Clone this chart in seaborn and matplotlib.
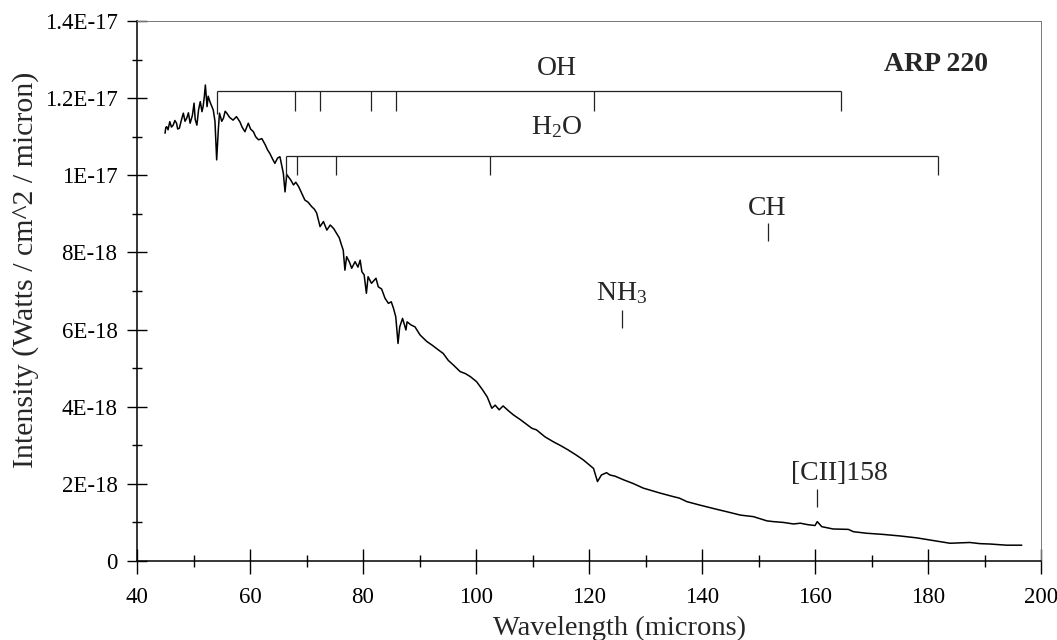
import numpy as np
import pandas as pd
import seaborn as sns
from matplotlib import pyplot as plt
from matplotlib.ticker import MultipleLocator, FixedLocator, FixedFormatter

# spectrum, intensity in units of 1e-18 W/cm^2/micron
wavelength = [
    44.96, 45.1, 45.26, 45.5, 45.8, 46.1, 46.4, 46.7, 47.0, 47.2,
    47.5, 47.8, 48.2, 48.5, 48.8, 49.1, 49.4, 49.8, 50.1, 50.3,
    50.6, 50.9, 51.2, 51.5, 51.7, 51.9, 52.1, 52.4, 52.6, 52.9,
    53.2, 53.5, 53.8, 54.1, 54.4, 54.6, 55.0, 55.3, 55.6, 55.9,
    56.4, 57.0, 57.6, 58.2, 58.6, 59.1, 59.7, 60.1, 60.6, 61.0,
    61.5, 62.1, 62.7, 63.1, 63.5, 64.0, 64.4, 64.9, 65.3, 65.9,
    66.2, 66.5, 66.8, 67.2, 67.7, 68.1, 68.6, 69.1, 69.7, 70.3,
    70.9, 71.4, 71.8, 72.4, 73.0, 73.6, 74.2, 74.8, 75.3, 75.8,
    76.2, 76.5, 76.8, 77.1, 77.6, 78.0, 78.6, 79.1, 79.5, 79.8,
    80.2, 80.6, 80.9, 81.5, 82.3, 82.7, 83.3, 83.9, 84.5, 85.0,
    85.4, 85.8, 86.2, 86.5, 87.0, 87.6, 87.8, 88.5, 89.2, 90.1,
    91.3, 92.2, 93.0, 94.2, 95.1, 96.0, 97.2, 98.1, 99.0, 100.1,
    101.2, 102.0, 102.8, 103.4, 104.1, 104.8, 105.7, 106.6, 107.8, 109.9,
    110.7, 112.2, 113.7, 115.0, 116.3, 117.7, 119.0, 120.8, 121.5, 122.2,
    123.1, 123.7, 124.6, 126.2, 127.8, 129.6, 131.0, 132.6, 134.9, 136.0,
    137.3, 139.6, 142.6, 144.6, 146.8, 149.1, 151.5, 152.7, 154.4, 156.2,
    157.4, 158.8, 160.0, 160.4, 161.2, 163.2, 165.9, 166.8, 169.1, 172.0,
    175.0, 178.0, 181.0, 183.9, 185.6, 187.4, 189.2, 191.0, 193.9, 196.6,
]
intensity = [
    11.09, 11.24, 11.26, 11.18, 11.39, 11.25, 11.30, 11.42, 11.35, 11.20,
    11.22, 11.40, 11.61, 11.40, 11.48, 11.62, 11.35, 11.55, 11.87, 11.45,
    11.30, 11.70, 11.91, 11.65, 11.78, 12.02, 12.34, 11.78, 12.05, 11.91,
    11.80, 11.69, 11.40, 10.40, 11.20, 11.61, 11.40, 11.48, 11.66, 11.61,
    11.50, 11.43, 11.52, 11.39, 11.25, 11.13, 11.35, 11.20, 11.13, 11.00,
    10.92, 10.95, 10.79, 10.66, 10.57, 10.42, 10.31, 10.45, 10.48, 10.05,
    9.57, 10.02, 9.96, 9.88, 9.75, 9.82, 9.71, 9.55, 9.36, 9.30,
    9.19, 9.12, 9.02, 8.67, 8.80, 8.58, 8.71, 8.62, 8.50, 8.38,
    8.19, 8.06, 7.54, 7.89, 7.75, 7.59, 7.76, 7.62, 7.80, 7.50,
    7.42, 6.94, 7.37, 7.20, 7.33, 7.11, 7.05, 6.81, 6.68, 6.72,
    6.55, 6.33, 5.64, 6.07, 6.29, 5.99, 6.20, 6.12, 6.07, 5.86,
    5.69, 5.60, 5.51, 5.38, 5.20, 5.08, 4.91, 4.86, 4.78, 4.65,
    4.43, 4.25, 3.96, 4.04, 3.92, 4.02, 3.90, 3.79, 3.67, 3.44,
    3.40, 3.22, 3.09, 2.99, 2.88, 2.75, 2.62, 2.40, 2.06, 2.23,
    2.29, 2.23, 2.20, 2.10, 2.01, 1.89, 1.83, 1.76, 1.67, 1.63,
    1.54, 1.45, 1.34, 1.27, 1.19, 1.15, 1.04, 1.02, 1.00, 0.96,
    0.98, 0.94, 0.92, 1.02, 0.89, 0.83, 0.82, 0.76, 0.72, 0.69,
    0.65, 0.60, 0.53, 0.46, 0.47, 0.48, 0.45, 0.44, 0.41, 0.41,
]

# line identifications (microns, as placed in the figure)
oh_span = [54.1, 164.6]
oh_ticks = [68.0, 72.4, 81.5, 85.9, 120.9]
oh_level = 12.19
h2o_span = [66.4, 181.8]
h2o_ticks = [68.4, 75.3, 102.5]
h2o_level = 10.5

single_lines = ["CH", "NH$_3$", "[CII]158"]
single_x = [151.6, 125.8, 160.4]
single_tick = [(8.3, 8.75), (6.05, 6.5), (1.39, 1.86)]
single_label_y = [9.15, 6.95, 2.26]
single_label_x = [151.6, 125.8, 164.4]

y_ticks = [0, 2, 4, 6, 8, 10, 12, 14]
y_tick_labels = ["0", "2E-18", "4E-18", "6E-18", "8E-18", "1E-17", "1.2E-17", "1.4E-17"]

sns.set_style("ticks")
plt.rcParams['font.family'] = ['Liberation Serif', 'DejaVu Serif']
plt.rcParams['mathtext.fontset'] = 'custom'
plt.rcParams['mathtext.rm'] = 'Liberation Serif'
plt.rcParams['mathtext.it'] = 'Liberation Serif:italic'

df = pd.DataFrame({'wavelength': wavelength,
                   'intensity': np.array(intensity) * 1e-18})

fig, ax = plt.subplots(figsize=(10.57, 6.4), dpi=100)
fig.subplots_adjust(left=137 / 1057, right=1041 / 1057, bottom=1 - 561 / 640, top=1 - 21 / 640)

sns.lineplot(data=df, x='wavelength', y='intensity', ax=ax, color='black',
             linewidth=1.1, estimator=None, sort=False)

lw = 0.9
ink = '#222222'
ax.hlines(oh_level * 1e-18, oh_span[0], oh_span[1], color=ink, lw=lw)
ax.vlines(oh_span[0], 11.6e-18, oh_level * 1e-18, color=ink, lw=lw)
ax.vlines(oh_span[1], (oh_level - 0.52) * 1e-18, oh_level * 1e-18, color=ink, lw=lw)
ax.vlines(oh_ticks, (oh_level - 0.52) * 1e-18, oh_level * 1e-18, color=ink, lw=lw)
ax.hlines(h2o_level * 1e-18, h2o_span[0], h2o_span[1], color=ink, lw=lw)
ax.vlines(h2o_span[0], 9.95e-18, h2o_level * 1e-18, color=ink, lw=lw)
ax.vlines(h2o_span[1], (h2o_level - 0.5) * 1e-18, h2o_level * 1e-18, color=ink, lw=lw)
ax.vlines(h2o_ticks, (h2o_level - 0.5) * 1e-18, h2o_level * 1e-18, color=ink, lw=lw)

ax.text(114.3, 12.78e-18, 'OH', fontsize=20, ha='center', va='center')
ax.text(114.3, 11.26e-18, 'H$_2$O', fontsize=20, ha='center', va='center')
ax.text(181.4, 12.86e-18, 'ARP 220', fontsize=20, fontweight='bold', ha='center', va='center')

for name, x, (y0, y1), lx, ly in zip(single_lines, single_x, single_tick, single_label_x, single_label_y):
    ax.vlines(x, y0 * 1e-18, y1 * 1e-18, color=ink, lw=lw)
    ax.text(lx, ly * 1e-18, name, fontsize=20, ha='center', va='center')

ax.set_xlim(40, 200)
ax.set_ylim(0, 1.4e-17)
ax.xaxis.set_major_locator(MultipleLocator(20))
ax.xaxis.set_minor_locator(MultipleLocator(10))
ax.yaxis.set_major_locator(FixedLocator([v * 1e-18 for v in y_ticks]))
ax.yaxis.set_major_formatter(FixedFormatter(y_tick_labels))
ax.yaxis.set_minor_locator(MultipleLocator(1e-18))

ax.tick_params(which='major', direction='inout', length=14, width=1.0, labelsize=16.5,
               color='black', labelcolor='black', pad=7)
ax.tick_params(which='minor', direction='inout', length=7, width=1.0, color='black')
ax.tick_params(axis='x', which='major', length=18, pad=10)
ax.tick_params(axis='x', which='minor', length=9)

for side in ['left', 'bottom']:
    ax.spines[side].set_color('black')
    ax.spines[side].set_linewidth(1.1)
for side in ['top', 'right']:
    ax.spines[side].set_color('#777777')
    ax.spines[side].set_linewidth(0.7)

ax.set_xlabel('Wavelength (microns)', fontsize=20.5)
ax.set_ylabel('Intensity (Watts / cm^2 / micron)', fontsize=21.5)
ax.xaxis.set_label_coords(0.534, -0.101)
ax.yaxis.set_label_coords(-0.108, 0.54)

fig.savefig('out.png', dpi=100, facecolor='white')
